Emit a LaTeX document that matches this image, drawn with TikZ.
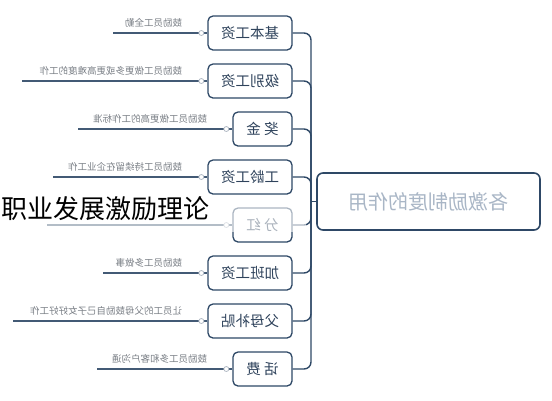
\documentclass[tikz,border=0pt]{standalone}
\usepackage{fontspec}
\setmainfont{Noto Sans CJK SC}
\usepackage{tikz}
\usetikzlibrary{calc,positioning}
\definecolor{mapnavy}{HTML}{2E4866}
\definecolor{maptext}{HTML}{2F435C}
\definecolor{mapnote}{HTML}{7A7F86}
\definecolor{maproot}{HTML}{A9B6C6}
\definecolor{mapknob}{HTML}{B4BCC6}

\begin{document}
\begin{tikzpicture}[x=1bp, y=-1bp,
  card/.style={draw=mapnavy, line width=1.3bp, rounded corners=5bp, fill=white,
    minimum height=34bp, inner sep=0pt, xscale=-1, text=maptext,
    font=\fontsize{14.5bp}{17bp}\selectfont},
  rootcard/.style={draw=mapnavy, line width=1.6bp, rounded corners=6bp, fill=white,
    minimum width=223bp, minimum height=57bp, inner sep=0pt, xscale=-1, text=maproot,
    font=\fontsize{20bp}{24bp}\selectfont},
  note/.style={xscale=-1, inner sep=0pt, text=mapnote, font=\fontsize{9.5bp}{11bp}\selectfont},
  branch/.style={draw=mapnavy, line width=1.4bp, rounded corners=7bp},
  twig/.style={draw=mapnavy!90, line width=1.2bp},
  knob/.style={draw=mapknob, fill=white, line width=0.8bp}
]
  \useasboundingbox (0,0) rectangle (552,400);

  % Root (mirrored, so its east anchor is on the left)
  \node[rootcard] (zuoyong) at (428.5,201.5) {各激励制度的作用};
  \coordinate (hub) at (311,201.5);
  \draw[branch] (zuoyong.east) -- (hub);

  % Branches
  \foreach \name/\lab/\cy/\w/\tip/\sub in {
    jiben/{基本工资}/33/84/113/{鼓励员工全勤},
    jibie/{级别工资}/81/84/22/{鼓励员工做更多或更高难度的工作},
    jiangjin/{奖 金}/129/59/78/{鼓励员工做更高的工作标准},
    gongling/{工龄工资}/177/84/53/{鼓励员工持续留在企业工作},
    fenhong/{分 红}/225/59/47/{},
    jiaban/{加班工资}/273/84/103/{鼓励员工多做事},
    fumu/{父母补贴}/321/84/13/{让员工的父母鼓励自己子女好好工作},
    huafei/{话 费}/369/59/97/{鼓励员工多和客户沟通}
  } {
    \node[card, minimum width=\w bp] (\name) at ({292-\w/2},\cy) {\lab};
    \draw[branch] (\name.west) -| (hub);
    \coordinate (\name-tip) at (\tip,\cy);
    \draw[twig] (\name-tip) -- (\name.east);
    \draw[knob] ([xshift=-6bp]\name.east) circle (2.5bp);
    \node[note, anchor=south west] (\name-note) at ([xshift=-25bp, yshift=5bp]\name.east) {\sub};
  }

  % Faded band and title
  \fill[white, opacity=0.6] (0,195) rectangle (306,232);
  \node[anchor=west, inner sep=0pt, font=\fontsize{26bp}{30bp}\selectfont] (biaoti) at (1,209) {职业发展激励理论};

\end{tikzpicture}
\end{document}
